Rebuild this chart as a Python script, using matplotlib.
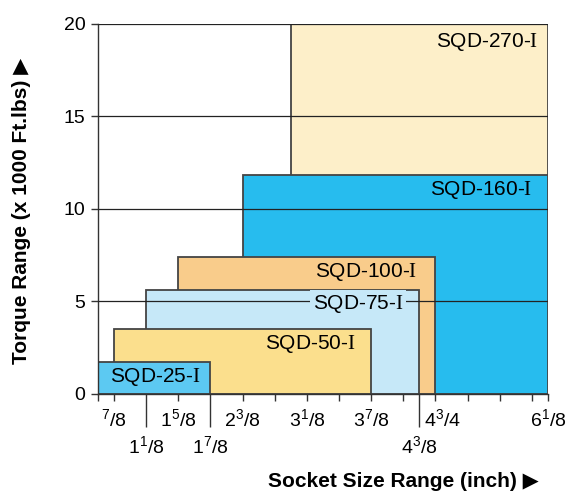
import numpy as np
import matplotlib
matplotlib.use("Agg")
import matplotlib.pyplot as plt
from matplotlib.transforms import ScaledTranslation

plt.rcParams['font.family'] = ['Liberation Sans', 'DejaVu Sans']
plt.rcParams['mathtext.fontset'] = 'custom'
plt.rcParams['mathtext.rm'] = 'Liberation Sans'
plt.rcParams['mathtext.it'] = 'Liberation Sans:italic'
plt.rcParams['mathtext.bf'] = 'Liberation Sans:bold'
plt.rcParams['mathtext.sf'] = 'Liberation Serif'  # serif "I" in the model names

# Models: socket size range (inch) and max torque (x 1000 ft.lbs)
models = ["SQD-270", "SQD-160", "SQD-100", "SQD-75", "SQD-50", "SQD-25"]
size_min = [2.9375, 2.375, 1.625, 1.125, 0.875, 0.75]
size_max = [6.125, 6.125, 4.75, 4.375, 3.875, 1.875]
torque_max = [20, 11.8, 7.4, 5.6, 3.5, 1.7]
colors = ["#fdefc9", "#27bcee", "#f9cc8b", "#c6e8f8", "#fbdf8d", "#5cc9f2"]

# socket size tick labels: upper row and lower row
row1_sizes = [0.875, 1.625, 2.375, 3.125, 3.875, 4.75, 6.125]
row1_labels = [r"${}^{7}/8$", r"$1^{5}/8$", r"$2^{3}/8$", r"$3^{1}/8$",
               r"$3^{7}/8$", r"$4^{3}/4$", r"$6^{1}/8$"]
row2_sizes = [1.125, 1.875, 4.375]
row2_labels = [r"$1^{1}/8$", r"$1^{7}/8$", r"$4^{3}/8$"]

torque_ticks = [0, 5, 10, 15, 20]

# the size axis is a schematic ruler, not linear in inches
ruler_in = [0.75, 0.875, 1.125, 1.625, 1.875, 2.375, 3.125, 3.875, 4.375, 4.75, 6.125]
ruler_pos = [0, 0.5, 1.5, 2.5, 3.5, 4.5, 6.5, 8.5, 10, 10.5, 14]


def forward(x):
    return np.interp(x, ruler_in, ruler_pos)


def inverse(p):
    return np.interp(p, ruler_pos, ruler_in)


# label offsets from each box's top right corner (pixels)
label_dx = [10, 16, 18, 16, 16, 10]
label_dy = [18, 15, 15, 13.5, 15, 15]

fig = plt.figure(figsize=(5.69, 4.91), dpi=100)
ax = fig.add_axes([0.1722, 0.1976, 0.7909, 0.7545])
ax.set_xscale('function', functions=(forward, inverse))
ax.set_xlim(ruler_in[0], ruler_in[-1])
ax.set_ylim(0, 20)

ax.bar(size_min, torque_max, width=np.subtract(size_max, size_min), align='edge',
       color=colors, edgecolor='#444444', linewidth=1.3, zorder=1)

for m, x1, t, c, dx, dy in zip(models, size_max, torque_max, colors, label_dx, label_dy):
    ax.annotate(m + "-" + r"$\mathsf{I}$", xy=(x1, t), xytext=(-dx, -dy),
                textcoords='offset pixels', ha='right', va='center', fontsize=15,
                bbox=dict(boxstyle='square,pad=0.12', fc=c, ec='none'), zorder=3)

ax.set_axisbelow(False)
ax.set_yticks(torque_ticks)
ax.yaxis.grid(True, color='#222222', linewidth=0.9)

extra_ticks = inverse(np.array([0, 5.5, 7.5, 9.5, 11.5, 12.5, 13.5]))
ax.set_xticks(row1_sizes + list(extra_ticks), labels=row1_labels + [''] * len(extra_ticks))
ax.set_xticks(row2_sizes, labels=row2_labels, minor=True)

ax.tick_params(axis='y', direction='out', length=5, width=1, pad=4, labelsize=14, color='#333333')
ax.tick_params(axis='x', which='major', direction='out', length=5, width=1, pad=5,
               labelsize=14, color='#333333')
ax.tick_params(axis='x', which='minor', direction='out', length=24, width=1, pad=6,
               labelsize=14, color='#333333')

# nudge the 4 3/4 label right of the long 4 3/8 tick
lbl = ax.xaxis.get_majorticklabels()[5]
lbl.set_transform(lbl.get_transform() + ScaledTranslation(0.07, 0, fig.dpi_scale_trans))

for s in ['top', 'right']:
    ax.spines[s].set_visible(False)
for s in ['left', 'bottom']:
    ax.spines[s].set_color('#333333')
    ax.spines[s].set_linewidth(1)

fig.text(0.038, 0.571, "Torque Range (x 1000 Ft.lbs) \u25b6", rotation=90, fontsize=15,
         fontweight='bold', ha='center', va='center')
fig.text(268 / 569, 1 - 487 / 491, "Socket Size Range (inch) \u25b6", fontsize=15,
         fontweight='bold', ha='left', va='baseline')

fig.savefig("out.png", dpi=100)
